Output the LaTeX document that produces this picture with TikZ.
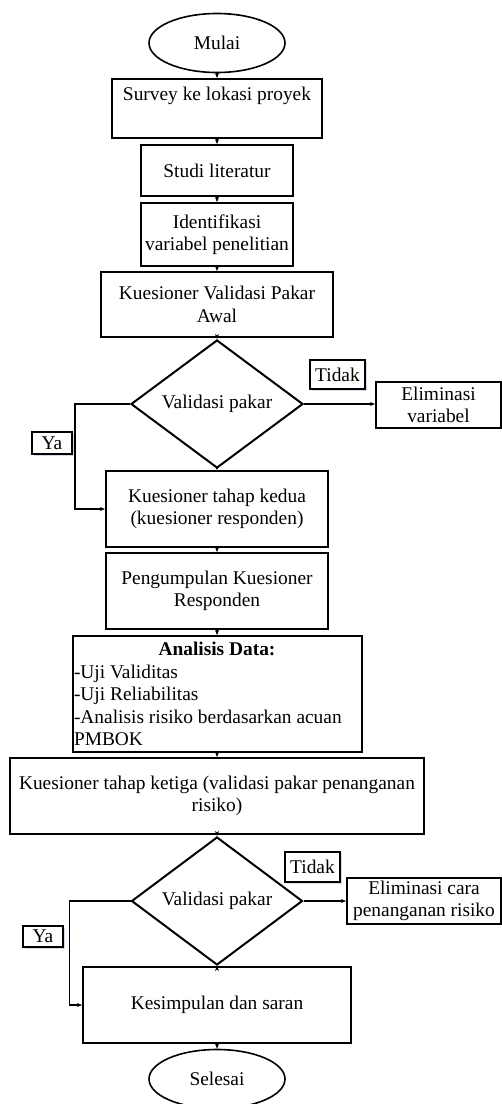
\documentclass[tikz,border=0pt]{standalone}
\usepackage{fontspec}
\setmainfont{Liberation Serif}
\usetikzlibrary{shapes.geometric,arrows.meta,shadows}
\begin{document}
\begin{tikzpicture}[x=1pt, y=-1pt,
	every node/.style={font=\fontsize{19.4}{22.5}\selectfont},
	box/.style={draw, line width=2pt, inner sep=0pt, align=center},
	oval/.style={ellipse, draw, line width=1.6pt, inner sep=0pt, minimum width=136pt, minimum height=59pt},
	cond/.style={diamond, draw, line width=2pt, inner sep=0pt},
	tag/.style={draw, line width=2pt, inner sep=0pt, fill=white, drop shadow={shadow xshift=1.5pt, shadow yshift=-1.5pt, fill=blue!25!gray!25, opacity=1}},
	arr/.style={-{Stealth[length=5pt, width=4pt]}, line width=1.5pt}]
			\useasboundingbox (0,0) rectangle (502,1104);
			\node[oval] (mulai) at (217,43) {Mulai};
			\node[box, minimum width=210pt, minimum height=59pt] (survey) at (217,108.5) {Survey ke lokasi proyek\\ \strut};
			\node[box, minimum width=152pt, minimum height=51pt] (studi) at (217,170.5) {Studi literatur};
			\node[box, minimum width=152pt, minimum height=63pt] (identifikasi) at (217,234.5) {Identifikasi\\variabel penelitian};
			\node[box, minimum width=232pt, minimum height=65pt] (awal) at (217,304.5) {Kuesioner Validasi Pakar\\Awal};
			\node[cond, minimum width=172pt, minimum height=121pt] (val1) at (217,404) {Validasi pakar};
			\node[tag, minimum width=55pt, minimum height=29pt] (tidak1) at (337.5,374.5) {Tidak};
			\node[box, minimum width=125pt, minimum height=46pt] (elim1) at (438.5,405) {Eliminasi\\variabel};
			\node[tag, minimum width=40pt, minimum height=22pt] (ya1) at (52,443) {Ya};
			\node[box, minimum width=222pt, minimum height=76pt] (kedua) at (217,509) {Kuesioner tahap kedua\\(kuesioner responden)};
			\node[box, minimum width=222pt, minimum height=76pt] (pengumpulan) at (217,591) {Pengumpulan Kuesioner\\Responden};
			\node[box, minimum width=289pt, minimum height=116pt, align=left] (analisis) at (217,694) {\makebox[286pt]{\textbf{Analisis Data:}}\\-Uji Validitas\\-Uji Reliabilitas\\-Analisis risiko berdasarkan acuan\\PMBOK};
			\node[box, minimum width=414pt, minimum height=76pt] (ketiga) at (217,796) {Kuesioner tahap ketiga (validasi pakar penanganan\\risiko)};
			\node[cond, minimum width=171pt, minimum height=118pt] (val2) at (217,901) {Validasi pakar};
			\node[tag, minimum width=55pt, minimum height=30pt] (tidak2) at (312.5,867) {Tidak};
			\node[box, minimum width=154pt, minimum height=46pt] (elim2) at (424,901) {Eliminasi cara\\penanganan risiko};
			\node[tag, minimum width=40pt, minimum height=21pt] (ya2) at (43,936.5) {Ya};
			\node[box, minimum width=268pt, minimum height=76pt] (kesimpulan) at (217,1005) {Kesimpulan dan saran};
			\node[oval] (selesai) at (217,1079) {Selesai};
			\draw[arr] (mulai) -- (survey);
			\draw[arr] (survey) -- (studi);
			\draw[arr] (studi) -- (identifikasi);
			\draw[arr] (identifikasi) -- (awal);
			\draw[arr] (awal) -- (val1);
			\draw[arr] (val1.east) -- (val1.east -| elim1.west);
			\draw[arr] (val1.west) -- ++(-55,0) |- (kedua.west);
			\draw[arr] (val1) -- (kedua);
			\draw[arr] (kedua) -- (pengumpulan);
			\draw[arr] (pengumpulan) -- (analisis);
			\draw[arr] (analisis) -- (ketiga);
			\draw[arr] (ketiga) -- (val2);
			\draw[arr] (val2.east) -- (val2.east -| elim2.west);
			\draw[arr] (val2.west) -- ++(-61,0) |- (kesimpulan.west);
			\draw[arr] (val2) -- (kesimpulan);
			\draw[arr] (kesimpulan) -- (selesai);
		\end{tikzpicture}
\end{document}
